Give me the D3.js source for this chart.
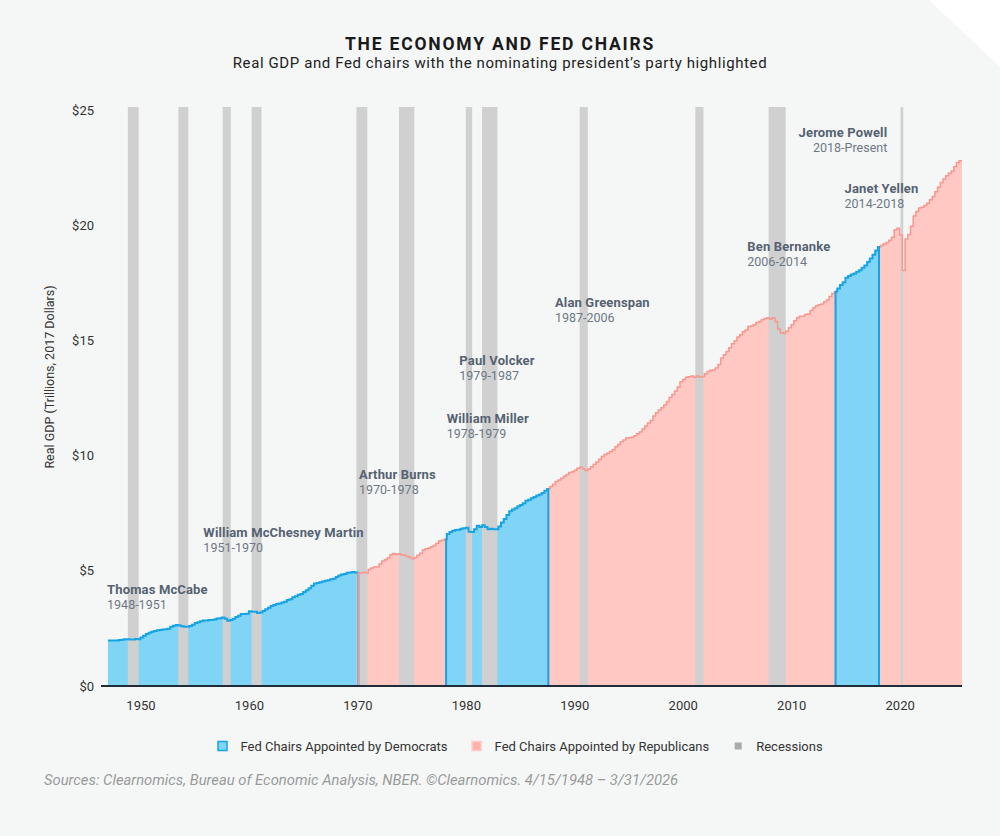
<!DOCTYPE html>
<html lang="en">
<head>
  <meta charset="UTF-8">
  <title>The Economy and Fed Chairs</title>
  <script src="https://d3js.org/d3.v7.min.js"></script>
  <style>
    body { margin: 0; background: #fff; }
    svg { display: block; }
    text { font-family: Roboto, sans-serif; }
  </style>
</head>
<body>
  <script>
    // real GDP, trillions of 2017 dollars, one value per quarter from 1947 Q1
    var gdpStartYear = 1947;
    var gdp = [
      1.97, 1.97, 1.98, 1.98,   2.00, 2.01, 2.03, 2.03,   2.02, 2.02, 2.04, 2.03,   // 1947-49
      2.10, 2.18, 2.26, 2.31,   2.35, 2.39, 2.42, 2.43,   2.45, 2.46, 2.49, 2.57,   // 1950-52
      2.62, 2.65, 2.63, 2.59,   2.57, 2.57, 2.60, 2.66,   2.73, 2.77, 2.81, 2.84,   // 1953-55
      2.84, 2.86, 2.86, 2.89,   2.93, 2.94, 2.97, 2.92,   2.83, 2.86, 2.92, 2.99,   // 1956-58
      3.05, 3.12, 3.12, 3.14,   3.24, 3.22, 3.22, 3.17,   3.19, 3.25, 3.33, 3.40,   // 1959-61
      3.47, 3.52, 3.56, 3.58,   3.62, 3.66, 3.73, 3.77,   3.85, 3.90, 3.96, 3.99,   // 1962-64
      4.08, 4.16, 4.24, 4.35,   4.45, 4.47, 4.50, 4.54,   4.57, 4.59, 4.63, 4.66,   // 1965-67
      4.73, 4.80, 4.84, 4.86,   4.91, 4.93, 4.95, 4.93,   4.91, 4.90, 4.94, 4.90,   // 1968-70
      5.06, 5.12, 5.16, 5.18,   5.30, 5.42, 5.48, 5.57,   5.70, 5.75, 5.72, 5.74,   // 1971-73
      5.70, 5.68, 5.62, 5.58,   5.52, 5.58, 5.68, 5.76,   5.90, 5.96, 5.99, 6.04,   // 1974-76
      6.10, 6.20, 6.30, 6.33,   6.37, 6.60, 6.68, 6.74,   6.77, 6.78, 6.83, 6.85,   // 1977-79
      6.87, 6.70, 6.68, 6.80,   6.95, 6.90, 6.98, 6.90,   6.80, 6.82, 6.80, 6.80,   // 1980-82
      6.92, 7.10, 7.25, 7.42,   7.58, 7.66, 7.72, 7.80,   7.86, 7.93, 8.04, 8.08,   // 1983-85
      8.15, 8.20, 8.27, 8.31,   8.38, 8.47, 8.55, 8.66,   8.75, 8.88, 8.94, 9.02,   // 1986-88
      9.10, 9.18, 9.27, 9.30,   9.36, 9.45, 9.49, 9.42,   9.35, 9.42, 9.52, 9.62,   // 1989-91
      9.72, 9.84, 9.96, 10.05,  10.10, 10.18, 10.25, 10.38, 10.48, 10.60, 10.68, 10.76, // 1992-94
      10.78, 10.80, 10.86, 10.95, 11.02, 11.15, 11.28, 11.42, 11.52, 11.72, 11.86, 11.98, // 1995-97
      12.08, 12.20, 12.35, 12.52, 12.65, 12.80, 12.98, 13.20, 13.30, 13.40, 13.42, 13.45, // 1998-2000
      13.40, 13.45, 13.40, 13.43, 13.55, 13.65, 13.70, 13.72, 13.80, 13.95, 14.22, 14.38, // 2001-03
      14.52, 14.68, 14.85, 14.98, 15.15, 15.25, 15.38, 15.45, 15.60, 15.62, 15.68, 15.78, // 2004-06
      15.82, 15.90, 15.95, 15.98, 15.93, 15.98, 15.82, 15.50, 15.33, 15.30, 15.40, 15.55, // 2007-09
      15.68, 15.85, 15.98, 16.05, 16.05, 16.12, 16.15, 16.30, 16.42, 16.50, 16.55, 16.58, // 2010-12
      16.68, 16.75, 16.90, 17.04, 17.11, 17.25, 17.40, 17.52, 17.72, 17.80, 17.86, 17.90, // 2013-15
      17.98, 18.05, 18.15, 18.25, 18.40, 18.55, 18.72, 18.90, 19.05, 19.12, 19.20, 19.25, // 2016-18
      19.35, 19.48, 19.80, 19.87, 19.57, 18.03, 19.40, 19.60, 19.95, 20.40, 20.60, 20.75, // 2019-21
      20.78, 20.85, 20.95, 21.10, 21.25, 21.45, 21.65, 21.85, 22.00, 22.15, 22.25, 22.35, // 2022-24
      22.55, 22.72, 22.80                                                                 // 2025
    ];

    // NBER recessions (peak month, first month after the trough)
    var recessionStarts = ['1948-11', '1953-07', '1957-08', '1960-04', '1969-12', '1973-11',
      '1980-01', '1981-07', '1990-07', '2001-03', '2007-12', '2020-02'];
    var recessionEnds = ['1949-11', '1954-06', '1958-05', '1961-03', '1970-12', '1975-04',
      '1980-08', '1982-12', '1991-04', '2001-12', '2009-07', '2020-05'];

    var chairNames = ['Thomas McCabe', 'William McChesney Martin', 'Arthur Burns', 'William Miller',
      'Paul Volcker', 'Alan Greenspan', 'Ben Bernanke', 'Janet Yellen', 'Jerome Powell'];
    var chairTerms = ['1948-1951', '1951-1970', '1970-1978', '1978-1979', '1979-1987',
      '1987-2006', '2006-2014', '2014-2018', '2018-Present'];
    var chairStarts = ['1948-04-15', '1951-04-02', '1970-02-01', '1978-03-08', '1979-08-06',
      '1987-08-11', '2006-02-01', '2014-02-03', '2018-02-05'];
    var chairParty = ['D', 'D', 'R', 'D', 'D', 'R', 'R', 'D', 'R'];
    // where each label sits: decimal year and GDP level of the name's baseline
    var labelYears = [1946.92, 1955.8, 1970.15, 1978.24, 1979.4, 1988.22, 2005.95, 2014.92, 2018.86];
    var labelLevels = [4.0, 6.45, 8.97, 11.43, 13.92, 16.44, 18.89, 21.38, 23.84];

    var yTicks = [0, 5, 10, 15, 20, 25];
    var legendLabels = ['Fed Chairs Appointed by Democrats', 'Fed Chairs Appointed by Republicans', 'Recessions'];

    var width = 1000;
    var height = 836;
    var padding = { top: 110, left: 107, right: 38, bottom: 150 };
    var colors = {
      D: { fill: '#80d5f6', line: '#17a4e4' },
      R: { fill: '#ffc8c3', line: '#f8978d' },
      recession: '#d0d0d0'
    };

    var svg = d3.select('body')
      .append('svg')
      .attr('width', width)
      .attr('height', height);

    svg.append('rect')
      .attr('width', width)
      .attr('height', height)
      .attr('fill', '#f5f7f7');
    // folded corner
    svg.append('path')
      .attr('d', 'M929,0L' + width + ',0L' + width + ',67Z')
      .attr('fill', '#ffffff');

    var parseDay = d3.timeParse('%Y-%m-%d');
    var parseMonth = d3.timeParse('%Y-%m');
    function fromDecimal(yr) {
      var y0 = Math.floor(yr);
      var a = new Date(y0, 0, 1), b = new Date(y0 + 1, 0, 1);
      return new Date(+a + (yr - y0) * (b - a));
    }

    var data = gdp.map(function (v, i) {
      return { date: new Date(gdpStartYear, i * 3, 1), v: v };
    });
    var first = data[0].date;
    var end = d3.timeMonth.offset(data[data.length - 1].date, 3);

    var x = d3.scaleTime()
      .domain([d3.timeMonth.offset(first, -1), end])
      .range([padding.left, width - padding.right]);
    var y = d3.scaleLinear()
      .domain([0, 25])
      .range([height - padding.bottom, padding.top]);

    var bisect = d3.bisector(function (d) { return d.date; }).right;
    function valueAt(date) {
      return data[Math.max(0, bisect(data, date) - 1)].v;
    }

    // merge consecutive chairs of the same party into segments
    var segments = [];
    chairStarts.forEach(function (s, i) {
      var start = i === 0 ? first : parseDay(s);
      if (segments.length && segments[segments.length - 1].party === chairParty[i]) return;
      if (segments.length) segments[segments.length - 1].end = start;
      segments.push({ party: chairParty[i], start: start, end: end, index: segments.length });
    });
    segments.forEach(function (seg) {
      seg.points = [{ date: seg.start, v: valueAt(seg.start) }]
        .concat(data.filter(function (d) { return d.date > seg.start && d.date < seg.end; }))
        .concat([{ date: seg.end, v: valueAt(seg.end) }]);
    });

    var area = d3.area()
      .x(function (d) { return x(d.date); })
      .y0(y(0))
      .y1(function (d) { return y(d.v); })
      .curve(d3.curveStepAfter);
    var line = d3.line()
      .x(function (d) { return x(d.date); })
      .y(function (d) { return y(d.v); })
      .curve(d3.curveStepAfter);

    svg.append('g').selectAll('path')
      .data(segments)
      .enter()
      .append('path')
      .attr('d', function (d) { return area(d.points); })
      .attr('fill', function (d) { return colors[d.party].fill; });

    // recession bars
    svg.append('g').selectAll('rect')
      .data(recessionStarts)
      .enter()
      .append('rect')
      .attr('x', function (d) { return x(parseMonth(d)); })
      .attr('width', function (d, i) { return x(parseMonth(recessionEnds[i])) - x(parseMonth(d)); })
      .attr('y', y.range()[1] - 3)
      .attr('height', y(0) - y.range()[1] + 3)
      .attr('fill', colors.recession);

    // outlines: first segment, then republican ones, then the later democrat ones on top
    function rank(s) { return s.index === 0 ? 0 : (s.party === 'R' ? 1 : 2); }
    var ordered = segments.slice().sort(function (a, b) {
      return rank(a) - rank(b) || a.index - b.index;
    });
    svg.append('g').selectAll('path')
      .data(ordered)
      .enter()
      .append('path')
      .attr('d', function (d) {
        var pts = d.points.slice();
        if (d.start > first) pts.unshift({ date: d.start, v: 0 });
        if (d.end < end) pts.push({ date: d.end, v: 0 });
        return line(pts);
      })
      .attr('fill', 'none')
      .attr('stroke', function (d) { return colors[d.party].line; })
      .attr('stroke-width', function (d) { return d.party === 'D' ? 2 : 1.5; });

    // axes
    svg.append('line')
      .attr('x1', padding.left - 6)
      .attr('x2', width - padding.right)
      .attr('y1', y(0))
      .attr('y2', y(0))
      .attr('stroke', '#1e2b38')
      .attr('stroke-width', 2);

    var xAxis = svg.append('g')
      .attr('transform', 'translate(0,' + y(0) + ')')
      .call(d3.axisBottom(x).ticks(d3.timeYear.every(10)).tickFormat(d3.timeFormat('%Y')).tickSize(0).tickPadding(15));
    xAxis.select('.domain').remove();
    xAxis.selectAll('text')
      .attr('font-family', '"Liberation Sans", Arial, sans-serif')
      .attr('font-size', 13)
      .attr('fill', '#333');

    var yAxis = svg.append('g')
      .attr('transform', 'translate(' + padding.left + ',0)')
      .call(d3.axisLeft(y).tickValues(yTicks).tickFormat(function (d) { return '$' + d; }).tickSize(0).tickPadding(13));
    yAxis.select('.domain').remove();
    yAxis.selectAll('text')
      .attr('font-family', '"Liberation Sans", Arial, sans-serif')
      .attr('font-size', 13)
      .attr('fill', '#333');

    svg.append('text')
      .attr('transform', 'translate(54,377) rotate(-90)')
      .attr('text-anchor', 'middle')
      .attr('font-family', '"Liberation Sans", Arial, sans-serif')
      .attr('font-size', 12.5)
      .attr('fill', '#333')
      .text('Real GDP (Trillions, 2017 Dollars)');

    // chair labels
    var labels = svg.append('g').selectAll('g')
      .data(chairNames)
      .enter()
      .append('g')
      .attr('transform', function (d, i) {
        return 'translate(' + x(fromDecimal(labelYears[i])) + ',' + y(labelLevels[i]) + ')';
      })
      .attr('text-anchor', function (d, i) { return i === chairNames.length - 1 ? 'end' : 'start'; });
    labels.append('text')
      .attr('font-family', 'Inter, sans-serif')
      .attr('font-weight', 700)
      .attr('font-size', 13)
      .attr('letter-spacing', 0.15)
      .attr('fill', '#566271')
      .text(function (d) { return d; });
    labels.append('text')
      .attr('y', 15)
      .attr('font-family', 'Inter, sans-serif')
      .attr('font-size', 12.5)
      .attr('fill', '#6e7885')
      .text(function (d, i) { return chairTerms[i]; });

    // titles
    svg.append('text')
      .attr('x', width / 2)
      .attr('y', 50)
      .attr('text-anchor', 'middle')
      .attr('font-weight', 700)
      .attr('font-size', 17.5)
      .attr('letter-spacing', 1.8)
      .attr('fill', '#1a1a1a')
      .text('THE ECONOMY AND FED CHAIRS');
    svg.append('text')
      .attr('x', width / 2)
      .attr('y', 68)
      .attr('text-anchor', 'middle')
      .attr('font-size', 15)
      .attr('letter-spacing', 0.6)
      .attr('fill', '#222')
      .text('Real GDP and Fed chairs with the nominating president\u2019s party highlighted');

    // legend
    var legend = svg.append('g').attr('transform', 'translate(0,746)');
    var swatches = [
      { fill: colors.D.fill, stroke: colors.D.line, size: 9 },
      { fill: '#ffb2ab', stroke: '#ffcbc6', size: 9 },
      { fill: '#aaaaaa', stroke: 'none', size: 7 }
    ];
    var items = legend.selectAll('g')
      .data(legendLabels)
      .enter()
      .append('g');
    items.append('rect')
      .attr('x', function (d, i) { return -swatches[i].size / 2; })
      .attr('y', function (d, i) { return -swatches[i].size / 2; })
      .attr('width', function (d, i) { return swatches[i].size; })
      .attr('height', function (d, i) { return swatches[i].size; })
      .attr('fill', function (d, i) { return swatches[i].fill; })
      .attr('stroke', function (d, i) { return swatches[i].stroke; })
      .attr('stroke-width', 1.5);
    var textOffset = 18;
    items.append('text')
      .attr('x', textOffset)
      .attr('dy', '0.35em')
      .attr('font-size', 13)
      .attr('fill', '#333')
      .text(function (d) { return d; });
    var gap = 29;
    var cursor = 222.5;
    var offsets = [];
    items.each(function () {
      offsets.push(cursor);
      cursor += textOffset + this.querySelector('text').getComputedTextLength() + gap;
    });
    items.attr('transform', function (d, i) { return 'translate(' + offsets[i] + ',0)'; });

    svg.append('text')
      .attr('x', 44)
      .attr('y', 785)
      .attr('font-style', 'italic')
      .attr('font-size', 14.8)
      .attr('fill', '#9a9a9a')
      .text('Sources: Clearnomics, Bureau of Economic Analysis, NBER. \u00a9Clearnomics. 4/15/1948 \u2013 3/31/2026');
  </script>
</body>
</html>
